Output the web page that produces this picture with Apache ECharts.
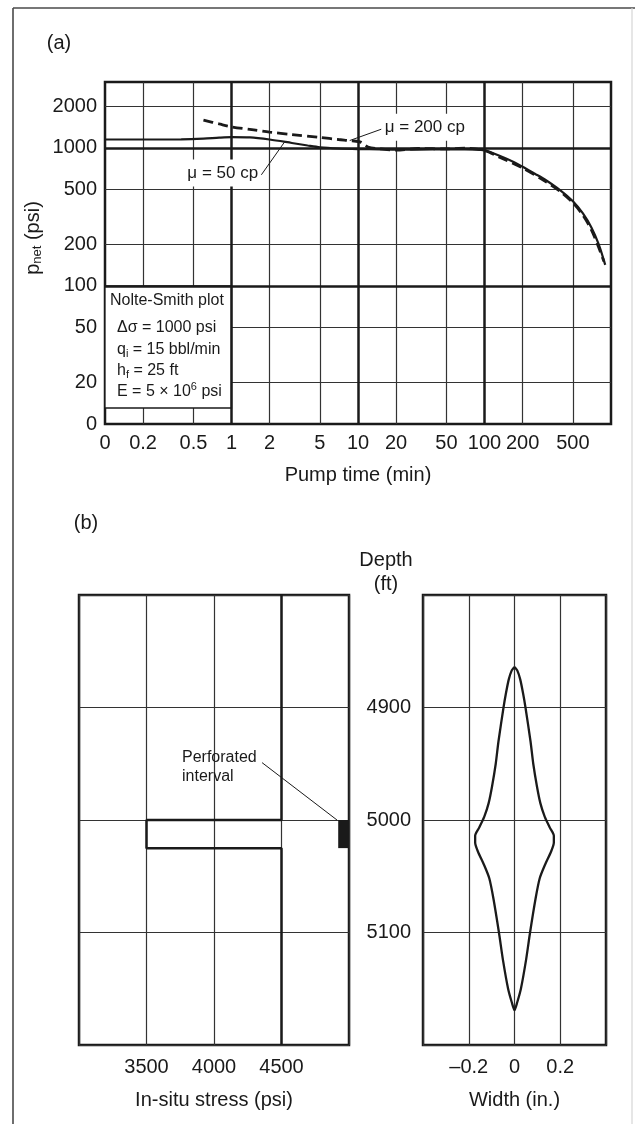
<!DOCTYPE html>
<html>
<head>
<meta charset="utf-8">
<script src="https://cdn.jsdelivr.net/npm/echarts@6/dist/echarts.min.js"></script>
<style>
  html, body { margin: 0; padding: 0; background: #fff; }
  #chart { width: 635px; height: 1124px; }
</style>
</head>
<body>
<div id="chart"></div>
<script>
// ---------- Panel (a): Nolte-Smith plot, net pressure vs pump time ----------
const timeTicks = [0.1, 0.2, 0.5, 1, 2, 5, 10, 20, 50, 100, 200, 500];
const timeTickLabels = ['0', '0.2', '0.5', '1', '2', '5', '10', '20', '50', '100', '200', '500'];
const timeDecades = [1, 10, 100];
const pressureTicks = [10, 20, 50, 100, 200, 500, 1000, 2000];
const pressureTickLabels = ['0', '20', '50', '100', '200', '500', '1000', '2000'];
const pressureDecades = [100, 1000];

// mu = 50 cp (solid)
const visc50Time = [0.1, 0.2, 0.4, 0.6, 0.8, 1.0, 1.4, 2.0, 3.0, 4.0, 5.0, 7.0, 10, 15, 20, 30, 50, 70, 100, 130, 170, 200, 250, 300, 400, 500, 600, 700, 800, 900];
const visc50Pressure = [1150, 1150, 1152, 1165, 1185, 1195, 1190, 1150, 1085, 1040, 1010, 990, 980, 975, 970, 972, 975, 975, 960, 880, 790, 730, 650, 590, 490, 410, 335, 265, 200, 142];

// mu = 200 cp (dashed)
const visc200Time = [0.6, 0.8, 1.0, 1.5, 2.0, 3.0, 5.0, 7.0, 9.0, 10.5, 12, 15, 20, 30, 50, 70, 100, 130, 200, 300, 400, 500, 600, 700, 800, 880];
const visc200Pressure = [1590, 1490, 1420, 1350, 1300, 1250, 1190, 1150, 1125, 1100, 1015, 985, 962, 990, 982, 995, 955, 860, 715, 575, 480, 400, 325, 255, 190, 150];

// annotation anchors: [time, pressure]
const visc50LabelAt = [0.424, 659];
const visc50Leader = [[1.72, 637], [2.63, 1105]];
const visc200LabelAt = [15.4, 1408];
const visc200Leader = [[15.3, 1366], [8.6, 1130]];

// ---------- Panel (b): stress profile and fracture width ----------
const stressRange = [3000, 5000, 500];          // min, max, step
const depthRange = [4800, 5200, 100];           // min, max, step
const widthRange = [-0.4, 0.4, 0.2];            // min, max, step
const stressProfileDepth = [4800, 5000, 5000, 5025, 5025, 5200];
const stressProfileValue = [4500, 4500, 3500, 3500, 4500, 4500];
const perforatedDepth = [5000, 5025];
const perforatedStress = [4920, 5000];
const perforatedLabelAt = [3763, 4953];
const perforatedLeader = [[4356, 4949], [4911, 5000]];

const profileDepth = [4864, 4867, 4875, 4888, 4900, 4930, 4950, 4970, 4985, 4997, 5007, 5014, 5020, 5028, 5040, 5052, 5070, 5100, 5125, 5150, 5162, 5169];
const profileHalfWidth = [0, 0.012, 0.025, 0.038, 0.048, 0.070, 0.082, 0.098, 0.113, 0.132, 0.155, 0.172, 0.172, 0.160, 0.133, 0.110, 0.092, 0.068, 0.050, 0.028, 0.012, 0];

// ---------- drawing ----------
const FONT = "'Liberation Sans', Arial, Helvetica, sans-serif";
const INK = '#1a1a1a';
const GRID_INK = '#333';
const THICK = 2.5;
const lg = Math.log10;

const chart = echarts.init(document.getElementById('chart'));

const nearestLabel = (ticks, labels) => v => {
  let best = 0, d = Infinity;
  ticks.forEach((t, i) => { const e = Math.abs(lg(t) - v); if (e < d) { d = e; best = i; } });
  return labels[best];
};
const toLog = (xs, ys) => xs.map((x, i) => [lg(x), lg(ys[i])]);
const plain = v => String(Math.round(v));
const tickText = { color: INK, fontSize: 20, fontFamily: FONT };
const nameText = { color: INK, fontSize: 20, fontFamily: FONT };

const gridLineData = (values, axis, width) => values.map(v => ({
  [axis]: lg(v), lineStyle: { color: width > 1.5 ? INK : GRID_INK, width: width, type: 'solid' }
}));
const thinTime = timeTicks.slice(1).filter(t => timeDecades.indexOf(t) < 0);
const thinPressure = pressureTicks.slice(1).filter(p => pressureDecades.indexOf(p) < 0);

const markLineBase = { silent: true, symbol: ['none', 'none'], label: { show: false }, animation: false, emphasis: { disabled: true } };

const widthFmt = v => Math.abs(v) < 1e-9 ? '0' : (v < 0 ? '\u2013' + Math.abs(v).toFixed(1) : v.toFixed(1));

const profilePoints = profileHalfWidth.map((w, i) => [w, profileDepth[i]])
  .concat(profileHalfWidth.slice(0, -1).map((w, i) => [-w, profileDepth[i]]).reverse());

const labelSeries = (xi, yi, size, extra, data) => ({
  type: 'scatter', xAxisIndex: xi, yAxisIndex: yi, z: 5, silent: true, symbolSize: 0,
  itemStyle: { opacity: 1 },
  label: Object.assign({
    show: true, position: [0, 0], align: 'left', verticalAlign: 'middle', opacity: 1,
    color: INK, fontSize: size, fontFamily: FONT
  }, extra),
  data: data
});

const option = {
  animation: false,
  backgroundColor: '#fff',
  grid: [
    { left: 105, top: 82, width: 506, height: 342, show: true, borderColor: INK, borderWidth: THICK, backgroundColor: 'transparent' },
    { left: 79, top: 595, width: 270, height: 450, show: true, borderColor: INK, borderWidth: THICK, backgroundColor: 'transparent' },
    { left: 423, top: 595, width: 183, height: 450, show: true, borderColor: INK, borderWidth: THICK, backgroundColor: 'transparent' }
  ],
  xAxis: [
    {
      type: 'value', gridIndex: 0, min: lg(timeTicks[0]), max: lg(1000),
      axisLine: { show: false }, axisTick: { show: false }, splitLine: { show: false },
      axisLabel: Object.assign({ customValues: timeTicks.map(lg), formatter: nearestLabel(timeTicks, timeTickLabels), margin: 9 }, tickText),
      name: 'Pump time (min)', nameLocation: 'middle', nameGap: 41, nameTextStyle: nameText
    },
    {
      type: 'value', gridIndex: 1, min: stressRange[0], max: stressRange[1], interval: stressRange[2],
      axisLine: { show: false }, axisTick: { show: false },
      splitLine: { show: true, lineStyle: { color: GRID_INK, width: 1.2 } },
      axisLabel: Object.assign({ showMinLabel: false, showMaxLabel: false, margin: 12, formatter: plain }, tickText),
      name: 'In-situ stress (psi)', nameLocation: 'middle', nameGap: 45, nameTextStyle: nameText
    },
    {
      type: 'value', gridIndex: 2, min: widthRange[0], max: widthRange[1], interval: widthRange[2],
      axisLine: { show: false }, axisTick: { show: false },
      splitLine: { show: true, lineStyle: { color: GRID_INK, width: 1.2 } },
      axisLabel: Object.assign({ showMinLabel: false, showMaxLabel: false, margin: 12, formatter: widthFmt }, tickText),
      name: 'Width (in.)', nameLocation: 'middle', nameGap: 45, nameTextStyle: nameText
    }
  ],
  yAxis: [
    {
      type: 'value', gridIndex: 0, min: lg(pressureTicks[0]), max: lg(3000),
      axisLine: { show: false }, axisTick: { show: false }, splitLine: { show: false },
      axisLabel: Object.assign({ customValues: pressureTicks.map(lg), formatter: nearestLabel(pressureTicks, pressureTickLabels), margin: 8 }, tickText)
    },
    {
      type: 'value', gridIndex: 1, min: depthRange[0], max: depthRange[1], interval: depthRange[2], inverse: true,
      axisLine: { show: false }, axisTick: { show: false }, axisLabel: { show: false },
      splitLine: { show: true, lineStyle: { color: GRID_INK, width: 1.2 } }
    },
    {
      type: 'value', gridIndex: 2, min: depthRange[0], max: depthRange[1], interval: depthRange[2], inverse: true,
      axisLine: { show: false }, axisTick: { show: false },
      axisLabel: Object.assign({ showMinLabel: false, showMaxLabel: false, margin: 12, formatter: plain }, tickText),
      splitLine: { show: true, lineStyle: { color: GRID_INK, width: 1.2 } }
    }
  ],
  series: [
    // thin grid lines of panel (a)
    {
      type: 'line', xAxisIndex: 0, yAxisIndex: 0, data: [], z: 1,
      markLine: Object.assign({ z: 1, data: gridLineData(thinTime, 'xAxis', 1.2).concat(gridLineData(thinPressure, 'yAxis', 1.2)) }, markLineBase)
    },
    // decade lines of panel (a)
    {
      type: 'line', xAxisIndex: 0, yAxisIndex: 0, data: [], z: 3,
      markLine: Object.assign({ z: 3, data: gridLineData(timeDecades, 'xAxis', THICK).concat(gridLineData(pressureDecades, 'yAxis', THICK)) }, markLineBase)
    },
    {
      name: 'μ = 50 cp', type: 'line', xAxisIndex: 0, yAxisIndex: 0, z: 4,
      data: toLog(visc50Time, visc50Pressure), showSymbol: false, smooth: 0.3,
      lineStyle: { color: INK, width: 2.2 }, silent: true
    },
    {
      name: 'μ = 200 cp', type: 'line', xAxisIndex: 0, yAxisIndex: 0, z: 4,
      data: toLog(visc200Time, visc200Pressure), showSymbol: false, smooth: 0.3,
      lineStyle: { color: INK, width: 2.8, type: [10, 5] }, silent: true
    },
    {
      type: 'line', xAxisIndex: 0, yAxisIndex: 0, z: 4, silent: true, showSymbol: false,
      data: visc50Leader.map(p => [lg(p[0]), lg(p[1])]), lineStyle: { color: INK, width: 1 }
    },
    {
      type: 'line', xAxisIndex: 0, yAxisIndex: 0, z: 4, silent: true, showSymbol: false,
      data: visc200Leader.map(p => [lg(p[0]), lg(p[1])]), lineStyle: { color: INK, width: 1 }
    },
    labelSeries(0, 0, 17, { backgroundColor: '#fff', padding: [5, 3] }, [
      { value: [lg(visc50LabelAt[0]), lg(visc50LabelAt[1])], label: { formatter: 'μ = 50 cp' } },
      { value: [lg(visc200LabelAt[0]), lg(visc200LabelAt[1])], label: { formatter: 'μ = 200 cp' } }
    ]),
    // panel (b): in-situ stress profile with perforated interval
    {
      type: 'line', xAxisIndex: 1, yAxisIndex: 1, z: 4, silent: true, showSymbol: false,
      data: stressProfileValue.map((s, i) => [s, stressProfileDepth[i]]),
      lineStyle: { color: INK, width: THICK },
      markArea: {
        silent: true, z: 4, itemStyle: { color: INK, opacity: 1 },
        data: [[{ xAxis: perforatedStress[0], yAxis: perforatedDepth[0] }, { xAxis: perforatedStress[1], yAxis: perforatedDepth[1] }]]
      }
    },
    {
      type: 'line', xAxisIndex: 1, yAxisIndex: 1, z: 4, silent: true, showSymbol: false,
      data: perforatedLeader, lineStyle: { color: INK, width: 1 }
    },
    labelSeries(1, 1, 16, { lineHeight: 18.5, formatter: 'Perforated\ninterval' }, [perforatedLabelAt]),
    // panel (b): fracture width profile
    {
      type: 'line', xAxisIndex: 2, yAxisIndex: 2, z: 4, silent: true, showSymbol: false,
      data: profilePoints, smooth: 0.25,
      lineStyle: { color: INK, width: 2.3 }
    }
  ]
};

chart.setOption(option);

// text blocks and frame placed against the plotted axes
const px = (t, p) => chart.convertToPixel({ gridIndex: 0 }, [lg(t), lg(p)]);
const boxTopRight = px(1, 100);
const boxBottomLeft = px(0.1, 10);
const boxLeft = boxBottomLeft[0], boxTop = boxTopRight[1], boxRight = boxTopRight[0], boxBottom = boxBottomLeft[1] - 16;

const txt = (x, y, text, size, extra) => ({
  type: 'text', x: x, y: y, silent: true, z: 6,
  style: Object.assign({ text: text, fill: INK, fontSize: size, fontFamily: FONT, align: 'left', verticalAlign: 'middle' }, extra || {})
});

const rich16 = {
  t: { fill: INK, fontSize: 16, fontFamily: FONT, lineHeight: 20 },
  s: { fill: INK, fontSize: 11, fontFamily: FONT, lineHeight: 12, verticalAlign: 'bottom' },
  u: { fill: INK, fontSize: 11, fontFamily: FONT, lineHeight: 12, verticalAlign: 'top' }
};

const boxX = boxLeft + 12;
const boxLines = [
  { x: boxLeft + 5, y: boxTop + 15, text: '{t|Nolte-Smith plot}' },
  { x: boxX, y: boxTop + 42, text: '{t|Δσ = 1000 psi}' },
  { x: boxX, y: boxTop + 64, text: '{t|q}{s|i}{t| = 15 bbl/min}' },
  { x: boxX, y: boxTop + 85, text: '{t|h}{s|f}{t| = 25 ft}' },
  { x: boxX, y: boxTop + 106, text: '{t|E = 5 × 10}{u|6}{t| psi}' }
];

chart.setOption({
  graphic: [
    // page frame
    { type: 'line', silent: true, shape: { x1: 13, y1: 8, x2: 13, y2: 1124 }, style: { stroke: '#4a4a4a', lineWidth: 1.6 } },
    { type: 'line', silent: true, shape: { x1: 13, y1: 8, x2: 635, y2: 8 }, style: { stroke: '#4a4a4a', lineWidth: 1.6 } },
    { type: 'line', silent: true, shape: { x1: 632, y1: 8, x2: 632, y2: 1124 }, style: { stroke: '#d6d6d6', lineWidth: 1.2 } },
    // parameter box of panel (a)
    {
      type: 'rect', silent: true, z: 2,
      shape: { x: boxLeft, y: boxTop, width: boxRight - boxLeft, height: boxBottom - boxTop },
      style: { fill: '#fff', stroke: INK, lineWidth: 1.3 }
    }
  ].concat(boxLines.map(l => txt(l.x, l.y, l.text, 16, { rich: rich16 })))
   .concat([
    txt(59, 43, '(a)', 20, { align: 'center' }),
    txt(86, 523, '(b)', 20, { align: 'center' }),
    txt(386, 560, 'Depth', 20, { align: 'center' }),
    txt(386, 584, '(ft)', 20, { align: 'center' }),
    {
      type: 'text', x: 33, y: 238, rotation: Math.PI / 2, silent: true, z: 6,
      style: {
        text: '{p|p}{s|net}{p| (psi)}', align: 'center', verticalAlign: 'middle',
        rich: {
          p: { fill: INK, fontSize: 20, fontFamily: FONT, lineHeight: 22 },
          s: { fill: INK, fontSize: 13, fontFamily: FONT, lineHeight: 13, verticalAlign: 'bottom' }
        }
      }
    }
  ])
});
</script>
</body>
</html>
